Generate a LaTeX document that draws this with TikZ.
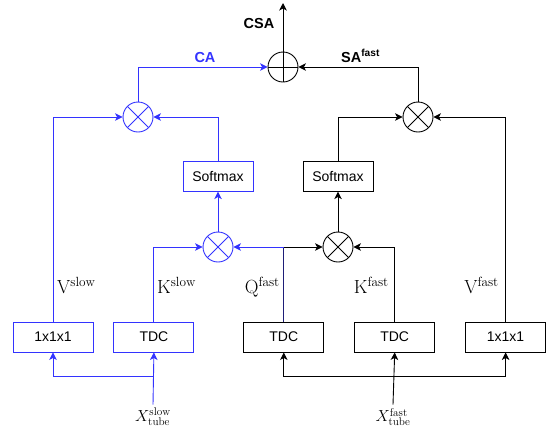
\RequirePackage{fix-cm}
\documentclass[tikz,border=0pt]{standalone}
\usepackage{fontspec}
\setsansfont{Liberation Sans}
\usepackage{xcolor}
\usetikzlibrary{positioning, calc, arrows.meta}
\definecolor{slowblue}{RGB}{51,51,255}
\definecolor{mixnavy}{RGB}{30,30,120}

\begin{document}
\begin{tikzpicture}[
        x=1pt, y=-1pt,
        >={Stealth[length=7.5pt, width=7.5pt, inset=2pt]},
        every node/.style={font=\sffamily\fontsize{14}{16}\selectfont},
        block/.style={rectangle, draw, line width=0.9pt, minimum width=80pt, minimum height=30pt},
        softbox/.style={block, minimum width=70pt},
        mult/.style={circle, draw, line width=0.9pt, minimum size=30pt, inner sep=0pt,
            path picture={\draw[line width=0.9pt] (path picture bounding box.north west) -- (path picture bounding box.south east)
                (path picture bounding box.north east) -- (path picture bounding box.south west);}},
        adder/.style={circle, draw, line width=0.9pt, minimum size=30pt, inner sep=0pt,
            path picture={\draw[line width=0.9pt] (path picture bounding box.north) -- (path picture bounding box.south)
                (path picture bounding box.west) -- (path picture bounding box.east);}},
        link/.style={->, line width=0.9pt},
        slow/.style={color=slowblue, text=black},
        tag/.style={font=\rmfamily\fontsize{19}{22}\selectfont, inner sep=0pt},
        input/.style={font=\rmfamily\fontsize{16}{18}\selectfont},
        head/.style={font=\sffamily\bfseries\fontsize{14.5}{17}\selectfont, inner sep=0pt}
    ]
        \useasboundingbox (0,0) rectangle (555,432);

        % Nodes
        \node[block, slow] (vslow) at (53,337) {1x1x1};
        \node[block, slow, right=20pt of vslow] (kslow) {TDC};
        \node[block, right=49pt of kslow] (qfast) {TDC};
        \node[block, right=30pt of qfast] (kfast) {TDC};
        \node[block, right=30pt of kfast] (vfast) {1x1x1};

        \node[mult, slow] (mslow) at (218,247) {};
        \node[mult] (mfast) at (338,247) {};
        \node[softbox, slow, above=40pt of mslow] (smslow) {Softmax};
        \node[softbox, above=40pt of mfast] (smfast) {Softmax};
        \node[mult, slow] (aslow) at (138,117) {};
        \node[mult] (afast) at (418,117) {};
        \node[adder] (sum) at (283,67) {};
        \coordinate (csaout) at (283,3);

        \node[input] (xslow) at (153,417) {$X^{\mathrm{slow}}_{\mathrm{tube}}$};
        \node[input] (xfast) at (393,417) {$X^{\mathrm{fast}}_{\mathrm{tube}}$};
        \coordinate (slowsplit) at (xslow.north |- 0,376);
        \coordinate (fastsplit) at (xfast.north |- 0,376);
        \coordinate (qsplit) at (qfast.north |- mslow.east);

        % Labels
        \node[tag, anchor=base west] (vslowtag) at (57,293) {V$^{\mathrm{slow}}$};
        \node[tag, anchor=base west] (kslowtag) at (157,293) {K$^{\mathrm{slow}}$};
        \node[tag, anchor=base east] (qfasttag) at (280,293) {Q$^{\mathrm{fast}}$};
        \node[tag, anchor=base east] (kfasttag) at (389,293) {K$^{\mathrm{fast}}$};
        \node[tag, anchor=base east] (vfasttag) at (499,293) {V$^{\mathrm{fast}}$};
        \node[head] (csatag) at (259,24) {CSA};
        \node[head, text=slowblue, anchor=base] (catag) at (205,62) {CA};
        \node[head, anchor=base west] (satag) at (341,62) {SA\textsuperscript{fast}};

        % Connections
        \draw[link, slow] (xslow.north) -- (kslow.south);
        \draw[link, slow] (slowsplit) -| (vslow.south);
        \draw[link] (xfast.north) -- (kfast.south);
        \draw[link] (fastsplit) -| (qfast.south);
        \draw[link] (fastsplit) -| (vfast.south);

        \draw[link, slow] (kslow.north) |- (mslow.west);
        \draw[line width=0.9pt, mixnavy] (qfast.north) -- (qsplit);
        \draw[link, slow] (qsplit) -- (mslow.east);
        \draw[link] (qsplit) -- (mfast.west);
        \draw[link] (kfast.north) |- (mfast.east);

        \draw[link, slow] (mslow.north) -- (smslow.south);
        \draw[link] (mfast.north) -- (smfast.south);
        \draw[link, slow] (vslow.north) |- (aslow.west);
        \draw[link, slow] (smslow.north) |- (aslow.east);
        \draw[link] (smfast.north) |- (afast.west);
        \draw[link] (vfast.north) |- (afast.east);

        \draw[link, slow] (aslow.north) |- (sum.west);
        \draw[link] (afast.north) |- (sum.east);
        \draw[link] (sum.north) -- (csaout);

    \end{tikzpicture}
\end{document}
